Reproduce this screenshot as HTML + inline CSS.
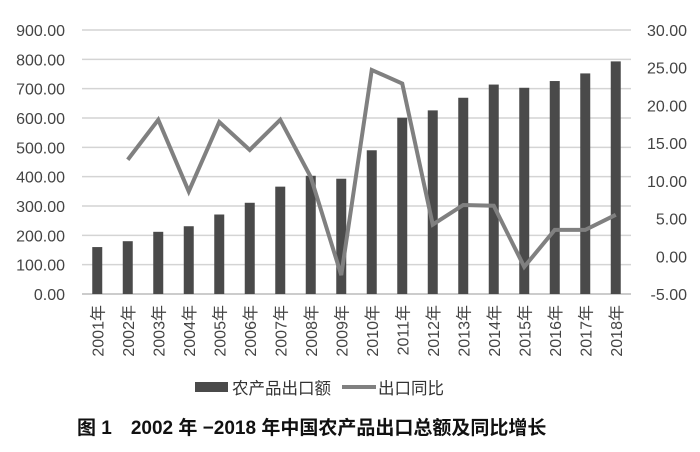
<!DOCTYPE html>
<html><head><meta charset="utf-8"><style>
body{margin:0;background:#fff;width:700px;height:447px;overflow:hidden}
svg text{font-family:"Liberation Sans","Noto Sans CJK SC",sans-serif}
</style></head><body>
<svg id="chart" width="700" height="447">
<g id="grid"></g><g id="bars"></g><g id="line"></g><g id="axes"></g>
<g>
<rect x="195" y="382" width="33" height="10" fill="#4a4a4a"/>
<text x="232" y="394" font-size="16.5" fill="#333">农产品出口额</text>
<line x1="342" y1="387" x2="376" y2="387" stroke="#808080" stroke-width="4"/>
<text x="378" y="394" font-size="16.5" fill="#333">出口同比</text>
</g>
<text x="77" y="434" font-size="19" font-weight="bold" fill="#111">图 1　2002 年 −2018 年中国农产品出口总额及同比增长</text>
</svg>
<script>
const categories=["2001年","2002年","2003年","2004年","2005年","2006年","2007年","2008年","2009年","2010年","2011年","2012年","2013年","2014年","2015年","2016年","2017年","2018年"];
const exportValues=[160,180,212,231,271,311,366,403,393,490,601,626,669,714,703,726,752,793];
const growthValues=[null,12.8,18.1,8.6,17.8,14.1,18.1,10.5,-2.5,24.7,22.9,4.2,6.8,6.7,-1.4,3.5,3.5,5.5];
const leftTicks=[0,100,200,300,400,500,600,700,800,900];
const rightTicks=[-5,0,5,10,15,20,25,30];
const NS="http://www.w3.org/2000/svg";
const L=82,R=631,T=30,B=294;
const yL=v=>B-(v/900)*(B-T);
const yR=v=>B-((v+5)/35)*(B-T);
const step=(R-L)/categories.length;
const xC=i=>L+step*(i+0.5);
function mk(tag,attrs,parent){const e=document.createElementNS(NS,tag);for(const k in attrs)e.setAttribute(k,attrs[k]);document.getElementById(parent).appendChild(e);return e;}
leftTicks.forEach((v,i)=>{
 const g=mk('line',{x1:L,x2:R,y1:yL(v),y2:yL(v),stroke:v===0?'#bbb':'#d4d4d4','stroke-width':1.5},'grid');
 
 
 const t=mk('text',{x:65,y:yL(v)+6,'text-anchor':'end','font-size':16,fill:'#444'},'axes');
 t.textContent=v.toFixed(2);
 
 
});
rightTicks.forEach(v=>{
 const t=mk('text',{x:687,y:yR(v)+6,'text-anchor':'end','font-size':16,fill:'#444'},'axes');
 t.textContent=v.toFixed(2);
 
 
});
categories.forEach((c,i)=>{
 const b=mk('rect',{x:xC(i)-5,y:yL(exportValues[i]),width:10,height:B-yL(exportValues[i]),fill:'#4a4a4a'},'bars');
 
 
 const t=mk('text',{transform:`translate(${xC(i)+6},305) rotate(-90)`,'text-anchor':'end','font-size':16,fill:'#444'},'axes');
 t.textContent=c;
 
 
});
let pts=[];growthValues.forEach((v,i)=>{if(v!==null)pts.push(xC(i)+','+yR(v));});
const pl=mk('polyline',{points:pts.join(' '),fill:'none',stroke:'#808080','stroke-width':4,'stroke-linejoin':'miter'},'line');


</script>
</body></html>
